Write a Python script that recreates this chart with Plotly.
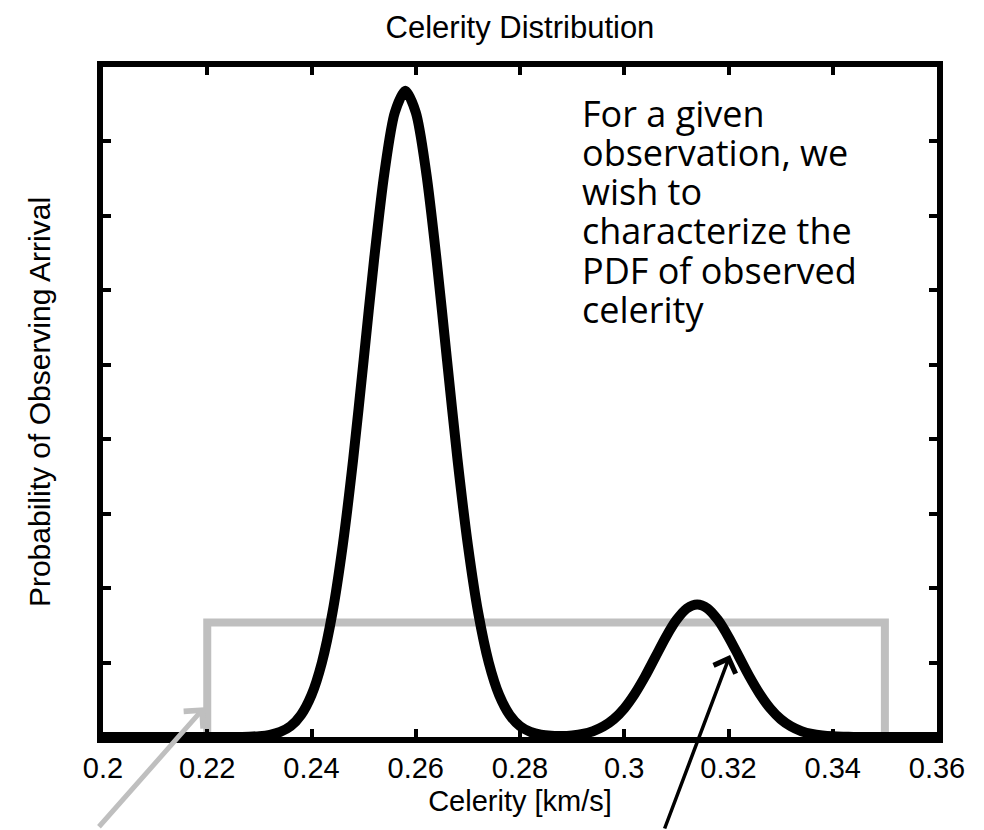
import plotly.graph_objects as go

# ---- data ----
celerity = [0.200, 0.202, 0.204, 0.206, 0.208, 0.210, 0.212, 0.214, 0.216, 0.218,
            0.220, 0.222, 0.224, 0.226, 0.228, 0.230, 0.232, 0.234, 0.236, 0.238,
            0.240, 0.242, 0.244, 0.246, 0.248, 0.250, 0.252, 0.254, 0.256, 0.258,
            0.260, 0.262, 0.264, 0.266, 0.268, 0.270, 0.272, 0.274, 0.276, 0.278,
            0.280, 0.282, 0.284, 0.286, 0.288, 0.290, 0.292, 0.294, 0.296, 0.298,
            0.300, 0.302, 0.304, 0.306, 0.308, 0.310, 0.312, 0.314, 0.316, 0.318,
            0.320, 0.322, 0.324, 0.326, 0.328, 0.330, 0.332, 0.334, 0.336, 0.338,
            0.340, 0.342, 0.344, 0.346, 0.348, 0.350, 0.352, 0.354, 0.356, 0.358,
            0.360]
observed_pdf = [0, 0, 0, 0, 0, 0, 0, 0, 0, 0,
                0, 0.0005, 0.002, 0.008, 0.022, 0.058, 0.145, 0.34, 0.73, 1.49,
                2.82, 5.01, 8.31, 12.89, 18.67, 25.30, 32.04, 37.92, 41.96, 43.40,
                41.96, 37.92, 32.04, 25.30, 18.67, 12.89, 8.31, 5.01, 2.82, 1.49,
                0.73, 0.34, 0.15, 0.08, 0.07, 0.11, 0.20, 0.39, 0.71, 1.20,
                1.92, 2.89, 4.07, 5.40, 6.72, 7.85, 8.63, 8.90, 8.63, 7.85,
                6.72, 5.40, 4.07, 2.89, 1.92, 1.20, 0.71, 0.39, 0.20, 0.10,
                0.045, 0.02, 0.008, 0, 0, 0, 0, 0, 0, 0,
                0]

uniform_x = [0.20, 0.22, 0.22, 0.35, 0.35, 0.36]
uniform_y = [0, 0, 7.69, 7.69, 0, 0]

x_tickvals = [0.20, 0.22, 0.24, 0.26, 0.28, 0.30, 0.32, 0.34, 0.36]
x_ticktext = ["0.2", "0.22", "0.24", "0.26", "0.28", "0.3", "0.32", "0.34", "0.36"]

note_lines = ["For a given", "observation, we", "wish to",
              "characterize the", "PDF of observed", "celerity"]

HELV = "Liberation Sans, Arial, Helvetica, sans-serif"

fig = go.Figure()
fig.add_trace(go.Scatter(x=uniform_x, y=uniform_y, mode="lines",
                         line=dict(color="#bfbfbf", width=8), showlegend=False,
                         hoverinfo="skip"))
fig.add_trace(go.Scatter(x=celerity, y=observed_pdf, mode="lines",
                         line=dict(color="black", width=10, shape="spline", smoothing=0.8),
                         showlegend=False))

axis_common = dict(showline=True, linewidth=6, linecolor="black", mirror="ticks",
                   ticks="inside", ticklen=8, tickwidth=4, tickcolor="black",
                   showgrid=False, zeroline=False)

fig.update_xaxes(range=[0.2, 0.36], tickvals=x_tickvals, ticktext=x_ticktext,
                 tickfont=dict(family=HELV, size=29, color="black"),
                 title=dict(text="Celerity [km/s]", font=dict(family=HELV, size=29, color="black"),
                            standoff=10),
                 automargin=False, **axis_common)
fig.update_yaxes(range=[0, 45], dtick=5, tick0=0, showticklabels=False,
                 title=dict(text="Probability of Observing Arrival",
                            font=dict(family=HELV, size=30, color="black"), standoff=40),
                 automargin=False, **axis_common)

# explanatory text block
y0 = 113
for i, line in enumerate(note_lines):
    fig.add_annotation(text=line, xref="x domain", yref="y domain",
                       x=(580 - 103) / 834, y=(737 - (y0 + 39.3 * i)) / 670,
                       xanchor="left", yanchor="middle", showarrow=False,
                       font=dict(family="Open Sans, sans-serif", size=36, color="black"))

# arrows
fig.add_annotation(x=0.2195, y=2.0, xref="x", yref="y", text="", showarrow=True,
                   ax=-107, ay=121, arrowhead=4, arrowsize=1, arrowwidth=5,
                   arrowcolor="#bfbfbf")
fig.add_annotation(x=0.3203, y=5.5, xref="x", yref="y", text="", showarrow=True,
                   ax=-66, ay=176, arrowhead=4, arrowsize=1.3, arrowwidth=3.5,
                   arrowcolor="black")

fig.update_layout(
    width=984, height=830,
    margin=dict(l=103, r=47, t=67, b=93),
    paper_bgcolor="white", plot_bgcolor="white",
    title=dict(text="Celerity Distribution", x=(103 + 937) / 2 / 984, xanchor="center",
               y=1 - 27 / 830, yanchor="middle",
               font=dict(family=HELV, size=31, color="black")),
)

fig.write_html("out.html")
